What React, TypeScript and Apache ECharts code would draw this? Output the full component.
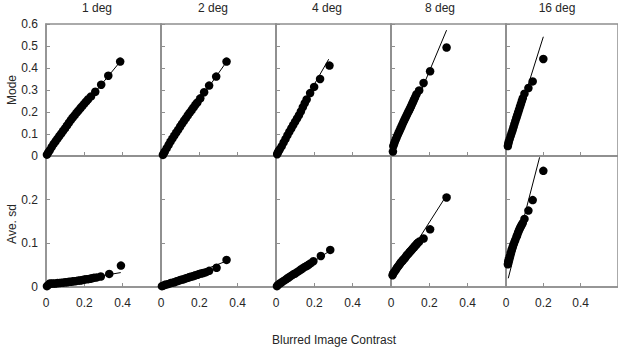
import React, { useEffect, useRef } from "react";
import * as echarts from "echarts";

const columnTitles = ["1 deg", "2 deg", "4 deg", "8 deg", "16 deg"];
const rowNames = ["Mode", "Ave. sd"];
const xAxisName = "Blurred Image Contrast";

// Mode (top row) points per column: [contrast, value]
const mode1: number[][] = [
  [0.005, 0.006], [0.012, 0.016], [0.02, 0.027], [0.03, 0.041], [0.04, 0.055], [0.05, 0.067],
  [0.06, 0.079], [0.07, 0.091], [0.08, 0.103], [0.09, 0.115], [0.1, 0.127], [0.11, 0.139],
  [0.12, 0.152], [0.13, 0.164], [0.14, 0.175], [0.15, 0.186], [0.16, 0.197], [0.17, 0.207],
  [0.18, 0.218], [0.19, 0.228], [0.2, 0.238], [0.21, 0.248], [0.22, 0.258], [0.235, 0.271],
  [0.257, 0.292], [0.288, 0.324], [0.325, 0.365], [0.387, 0.429],
];
const mode2: number[][] = [
  [0.01, 0.005], [0.015, 0.013], [0.02, 0.021], [0.03, 0.036], [0.04, 0.051], [0.05, 0.066],
  [0.06, 0.08], [0.07, 0.094], [0.08, 0.107], [0.09, 0.12], [0.1, 0.134], [0.11, 0.147],
  [0.12, 0.16], [0.13, 0.172], [0.14, 0.185], [0.15, 0.197], [0.16, 0.209], [0.17, 0.221],
  [0.18, 0.233], [0.19, 0.244], [0.205, 0.262], [0.225, 0.29], [0.251, 0.32], [0.288, 0.361],
  [0.342, 0.429],
];
const mode4: number[][] = [
  [0.006, 0.008], [0.01, 0.016], [0.015, 0.024], [0.02, 0.031], [0.03, 0.045], [0.04, 0.062],
  [0.05, 0.078], [0.06, 0.095], [0.07, 0.111], [0.08, 0.126], [0.09, 0.141], [0.1, 0.156],
  [0.11, 0.171], [0.12, 0.186], [0.13, 0.203], [0.14, 0.222], [0.15, 0.24], [0.16, 0.257],
  [0.178, 0.286], [0.199, 0.314], [0.23, 0.35], [0.279, 0.411],
];
const mode8: number[][] = [
  [0.01, 0.02], [0.012, 0.045], [0.016, 0.055], [0.02, 0.065], [0.025, 0.075], [0.03, 0.086],
  [0.035, 0.096], [0.04, 0.106], [0.045, 0.115], [0.05, 0.125], [0.055, 0.135], [0.06, 0.145],
  [0.065, 0.155], [0.07, 0.164], [0.075, 0.173], [0.08, 0.182], [0.085, 0.191], [0.09, 0.2],
  [0.095, 0.209], [0.1, 0.218], [0.105, 0.227], [0.11, 0.237], [0.115, 0.246], [0.12, 0.256],
  [0.126, 0.268], [0.133, 0.281], [0.147, 0.298], [0.17, 0.332], [0.204, 0.385], [0.29, 0.493],
];
const mode16: number[][] = [
  [0.01, 0.045], [0.012, 0.055], [0.015, 0.065], [0.02, 0.078], [0.025, 0.091], [0.03, 0.104],
  [0.035, 0.117], [0.04, 0.131], [0.045, 0.145], [0.05, 0.158], [0.055, 0.172], [0.06, 0.185],
  [0.065, 0.198], [0.07, 0.211], [0.075, 0.224], [0.08, 0.237], [0.085, 0.25], [0.09, 0.263],
  [0.099, 0.283], [0.12, 0.309], [0.143, 0.339], [0.2, 0.441],
];

// Ave. sd (bottom row) points per column
const sd1: number[][] = [
  [0.005, 0.002], [0.012, 0.005], [0.02, 0.008], [0.03, 0.008], [0.04, 0.008], [0.05, 0.008],
  [0.06, 0.009], [0.07, 0.009], [0.08, 0.01], [0.09, 0.01], [0.1, 0.011], [0.11, 0.011],
  [0.12, 0.012], [0.13, 0.012], [0.14, 0.013], [0.15, 0.013], [0.16, 0.014], [0.17, 0.015],
  [0.18, 0.015], [0.19, 0.016], [0.2, 0.017], [0.21, 0.018], [0.22, 0.018], [0.23, 0.019],
  [0.24, 0.02], [0.25, 0.021], [0.265, 0.022], [0.286, 0.024], [0.33, 0.03], [0.391, 0.049],
];
const sd2: number[][] = [
  [0.005, 0.002], [0.012, 0.003], [0.02, 0.005], [0.03, 0.006], [0.04, 0.007], [0.05, 0.009],
  [0.06, 0.01], [0.07, 0.011], [0.08, 0.013], [0.09, 0.014], [0.1, 0.016], [0.11, 0.017],
  [0.12, 0.018], [0.13, 0.02], [0.14, 0.021], [0.15, 0.023], [0.16, 0.024], [0.17, 0.025],
  [0.18, 0.027], [0.19, 0.028], [0.2, 0.03], [0.21, 0.031], [0.22, 0.032], [0.235, 0.034],
  [0.251, 0.037], [0.29, 0.044], [0.342, 0.062],
];
const sd4: number[][] = [
  [0.005, 0.002], [0.01, 0.005], [0.02, 0.008], [0.03, 0.011], [0.04, 0.014], [0.05, 0.017],
  [0.06, 0.02], [0.07, 0.023], [0.08, 0.026], [0.09, 0.029], [0.1, 0.031], [0.11, 0.034],
  [0.12, 0.037], [0.13, 0.04], [0.14, 0.043], [0.15, 0.046], [0.16, 0.048], [0.17, 0.051],
  [0.18, 0.054], [0.195, 0.059], [0.234, 0.071], [0.283, 0.085],
];
const sd8: number[][] = [
  [0.008, 0.027], [0.012, 0.031], [0.018, 0.035], [0.025, 0.039], [0.03, 0.043], [0.035, 0.046],
  [0.04, 0.049], [0.045, 0.052], [0.05, 0.055], [0.055, 0.058], [0.06, 0.06], [0.065, 0.063],
  [0.07, 0.065], [0.075, 0.068], [0.08, 0.071], [0.085, 0.074], [0.09, 0.076], [0.095, 0.079],
  [0.1, 0.081], [0.105, 0.084], [0.11, 0.086], [0.115, 0.089], [0.12, 0.091], [0.125, 0.094],
  [0.13, 0.096], [0.135, 0.099], [0.14, 0.101], [0.147, 0.104], [0.17, 0.111], [0.204, 0.132],
  [0.29, 0.205],
];
const sd16: number[][] = [
  [0.01, 0.052], [0.012, 0.058], [0.015, 0.063], [0.02, 0.07], [0.025, 0.078], [0.03, 0.085],
  [0.035, 0.091], [0.04, 0.097], [0.045, 0.103], [0.05, 0.108], [0.056, 0.115], [0.06, 0.119],
  [0.065, 0.125], [0.07, 0.13], [0.075, 0.135], [0.08, 0.139], [0.085, 0.143], [0.09, 0.147],
  [0.099, 0.156], [0.12, 0.175], [0.143, 0.199], [0.2, 0.266],
];

// Fitted lines: two end points each
const modeFits: number[][][] = [
  [[0.1, 0.125], [0.39, 0.432]],
  [[0.1, 0.13], [0.345, 0.432]],
  [[0.15, 0.25], [0.275, 0.44]],
  [[0.14, 0.26], [0.29, 0.572]],
  [[0.08, 0.218], [0.2, 0.542]],
];
const sdFits: number[][][] = [
  [[0.0, 0.004], [0.39, 0.033]],
  [[0.0, 0.001], [0.345, 0.06]],
  [[0.0, 0.002], [0.285, 0.084]],
  [[0.13, 0.1], [0.29, 0.21]],
  [[0.012, 0.02], [0.18, 0.297]],
];

const modeData = [mode1, mode2, mode4, mode8, mode16];
const sdData = [sd1, sd2, sd4, sd8, sd16];

const xTicks = [0, 0.2, 0.4, 0.6];
const modeTicks = [0, 0.1, 0.2, 0.3, 0.4, 0.5, 0.6];
const sdTicks = [0, 0.1, 0.2, 0.3];

const FONT = "'Liberation Sans', Arial, sans-serif";
const AXIS = "#8f8f8f";
const TEXT = "#262626";

export default function App() {
  const ref = useRef<HTMLDivElement>(null);

  useEffect(() => {
    if (!ref.current) return;
    const chart = echarts.init(ref.current, undefined, { renderer: "svg" });

    const colLefts = [46, 161, 276, 391, 506];
    const colWidth = 115;
    const rows = [
      { top: 24, height: 132, ticks: modeTicks, data: modeData, fits: modeFits },
      { top: 156, height: 131, ticks: sdTicks, data: sdData, fits: sdFits },
    ];

    const grids: any[] = [];
    const xAxes: any[] = [];
    const yAxes: any[] = [];
    const series: any[] = [];

    rows.forEach((row, r) => {
      colLefts.forEach((left, c) => {
        const gi = grids.length;
        grids.push({
          left,
          top: row.top,
          width: colWidth,
          height: row.height,
          show: true,
          borderColor: AXIS,
          borderWidth: 1.5,
          backgroundColor: "transparent",
        });
        xAxes.push({
          type: "value",
          gridIndex: gi,
          min: xTicks[0],
          max: xTicks[xTicks.length - 1],
          interval: 0.2,
          axisLine: { show: true, onZero: false, lineStyle: { color: AXIS, width: 1.5 } },
          axisTick: { show: true, inside: true, length: 4, lineStyle: { color: AXIS } },
          splitLine: { show: false },
          axisLabel: {
            show: r === 1,
            showMaxLabel: false,
            margin: 10,
            color: TEXT,
            fontSize: 12,
            fontFamily: FONT,
          },
        });
        yAxes.push({
          type: "value",
          gridIndex: gi,
          min: row.ticks[0],
          max: row.ticks[row.ticks.length - 1],
          interval: 0.1,
          axisLine: { show: true, onZero: false, lineStyle: { color: AXIS, width: 1.5 } },
          axisTick: { show: true, inside: true, length: 4, lineStyle: { color: AXIS } },
          splitLine: { show: false },
          axisLabel: {
            show: c === 0,
            showMaxLabel: r === 0,
            margin: 8,
            color: TEXT,
            fontSize: 12,
            fontFamily: FONT,
          },
        });
        series.push({
          type: "line",
          xAxisIndex: gi,
          yAxisIndex: gi,
          data: row.fits[c],
          symbol: "none",
          lineStyle: { color: "#000", width: 1 },
          z: 3,
        });
        series.push({
          type: "scatter",
          xAxisIndex: gi,
          yAxisIndex: gi,
          data: row.data[c],
          symbol: "circle",
          symbolSize: 8.5,
          itemStyle: { color: "#000", opacity: 1 },
          z: 2,
        });
      });
    });

    const titleX = [97, 213, 327, 440, 557];
    const graphic: any[] = [
      ...columnTitles.map((t, i) => ({
        type: "text",
        x: titleX[i],
        y: 8,
        style: {
          text: t,
          fill: TEXT,
          fontSize: 12,
          fontFamily: FONT,
          align: "center",
          verticalAlign: "middle",
        },
      })),
      {
        type: "text",
        x: 12,
        y: 90,
        rotation: Math.PI / 2,
        style: {
          text: rowNames[0],
          fill: TEXT,
          fontSize: 12,
          fontFamily: FONT,
          align: "center",
          verticalAlign: "middle",
        },
      },
      {
        type: "text",
        x: 12,
        y: 224,
        rotation: Math.PI / 2,
        style: {
          text: rowNames[1],
          fill: TEXT,
          fontSize: 12,
          fontFamily: FONT,
          align: "center",
          verticalAlign: "middle",
        },
      },
      {
        type: "text",
        x: 334,
        y: 340,
        style: {
          text: xAxisName,
          fill: TEXT,
          fontSize: 12,
          fontFamily: FONT,
          align: "center",
          verticalAlign: "middle",
        },
      },
    ];

    chart.setOption({
      animation: false,
      backgroundColor: "#fff",
      grid: grids,
      xAxis: xAxes,
      yAxis: yAxes,
      series,
      graphic,
    });

    return () => chart.dispose();
  }, []);

  return (
    <div
      ref={ref}
      style={{ position: "fixed", left: 0, top: 0, width: 618, height: 353 }}
    />
  );
}
